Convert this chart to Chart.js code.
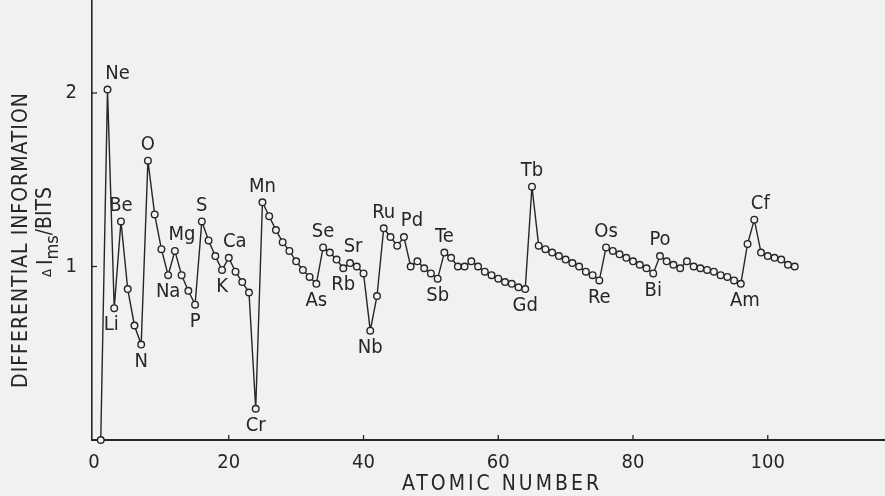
<!DOCTYPE html>
<html>
<head>
<meta charset="utf-8">
<script src="https://cdn.jsdelivr.net/npm/chart.js@4.4.1/dist/chart.umd.min.js"></script>
<style>
  html, body { margin: 0; padding: 0; background: #f1f1ef; }
  #chart { display: block; }
</style>
</head>
<body>
<canvas id="chart" width="885" height="496"></canvas>
<script>
// differential information per element, Z = 1 .. 104
var infoValues = [
    0.00, 2.02, 0.76, 1.26, 0.87, 0.66, 0.55, 1.61, 1.30, 1.10,
    0.95, 1.09, 0.95, 0.86, 0.78, 1.26, 1.15, 1.06, 0.98, 1.05,
    0.97, 0.91, 0.85, 0.18, 1.37, 1.29, 1.21, 1.14, 1.09, 1.03,
    0.98, 0.94, 0.90, 1.11, 1.08, 1.04, 0.99, 1.02, 1.00, 0.96,
    0.63, 0.83, 1.22, 1.17, 1.12, 1.17, 1.00, 1.03, 0.99, 0.96,
    0.93, 1.08, 1.05, 1.00, 1.00, 1.03, 1.00, 0.97, 0.95, 0.93,
    0.91, 0.90, 0.88, 0.87, 1.46, 1.12, 1.10, 1.08, 1.06, 1.04,
    1.02, 1.00, 0.97, 0.95, 0.92, 1.11, 1.09, 1.07, 1.05, 1.03,
    1.01, 0.99, 0.96, 1.06, 1.03, 1.01, 0.99, 1.03, 1.00, 0.99,
    0.98, 0.97, 0.95, 0.94, 0.92, 0.90, 1.13, 1.27, 1.08, 1.06,
    1.05, 1.04, 1.01, 1.00
];

// element names written next to points, by atomic number
var labelZ = [2, 3, 4, 7, 8, 11, 12, 15, 16, 19, 20, 24, 25, 33, 34, 37, 38, 41, 43, 46,
    51, 52, 64, 65, 75, 76, 83, 84, 96, 98];
var labelNames = ["Ne", "Li", "Be", "N", "O", "Na", "Mg", "P", "S", "K", "Ca", "Cr", "Mn", "As", "Se", "Rb", "Sr", "Nb", "Ru", "Pd",
    "Sb", "Te", "Gd", "Tb", "Re", "Os", "Bi", "Po", "Am", "Cf"];

var xTicks = [0, 20, 40, 60, 80, 100];
var yTicks = [1, 2];

var ink = "#262626";
var paper = "#f1f1ef";
var font = "'DejaVu Sans Condensed', 'DejaVu Sans', sans-serif";

// small sideways nudges for a few labels
var labelShift = { Ne: 10, Li: -3, Mg: 7, Ca: 6, Pd: 8, Cf: 6, Am: 4, Sr: 3 };

var points = infoValues.map(function(v, i) {
    return { x: i + 1, y: v };
});

function noPad(s) {
    s.paddingTop = 0;
    s.paddingBottom = 0;
    s.paddingLeft = 0;
    s.paddingRight = 0;
}

var figureText = {
    id: "figureText",
    afterDraw: function(chart) {
        var ctx = chart.ctx;
        var xs = chart.scales.x, ys = chart.scales.y;
        var meta = chart.getDatasetMeta(0);

        // inward tick marks
        ctx.save();
        ctx.strokeStyle = ink;
        ctx.lineWidth = 1.3;
        xTicks.forEach(function(t) {
            if (t === 0) return;
            var px = xs.getPixelForValue(t);
            ctx.beginPath();
            ctx.moveTo(px, ys.bottom);
            ctx.lineTo(px, ys.bottom - 5);
            ctx.stroke();
        });
        yTicks.forEach(function(t) {
            var py = ys.getPixelForValue(t);
            ctx.beginPath();
            ctx.moveTo(xs.left, py);
            ctx.lineTo(xs.left + 5, py);
            ctx.stroke();
        });
        ctx.restore();

        // element labels
        ctx.save();
        ctx.fillStyle = ink;
        ctx.font = "20px " + font;
        ctx.textAlign = "center";
        ctx.textBaseline = "middle";
        labelZ.forEach(function(z, k) {
            var el = meta.data[z - 1];
            var up = infoValues[z - 1] > infoValues[z - 2];
            var name = labelNames[k];
            var dx = labelShift[name] || 0;
            ctx.fillText(name, el.x + dx, up ? el.y - 16 : el.y + 17);
        });
        ctx.restore();

        // x title
        ctx.save();
        ctx.fillStyle = ink;
        ctx.font = "21px " + font;
        ctx.letterSpacing = "3px";
        ctx.textAlign = "center";
        ctx.textBaseline = "middle";
        ctx.fillText("ATOMIC NUMBER", 502, 485);
        ctx.restore();

        // y title, two rotated lines
        ctx.save();
        ctx.fillStyle = ink;
        ctx.translate(22, 240);
        ctx.rotate(-Math.PI / 2);
        ctx.font = "21px " + font;
        ctx.letterSpacing = "1px";
        ctx.textAlign = "center";
        ctx.textBaseline = "middle";
        ctx.fillText("DIFFERENTIAL INFORMATION", 0, 0);
        ctx.restore();

        ctx.save();
        ctx.fillStyle = ink;
        ctx.translate(47, 232);
        ctx.rotate(-Math.PI / 2);
        ctx.textBaseline = "middle";
        ctx.textAlign = "left";
        var parts = [
            { t: "\u0394", f: "13px " + font, dy: 1 },
            { t: "I", f: "21px " + font, dy: 0 },
            { t: "ms", f: "18px " + font, dy: 6 },
            { t: "/BITS", f: "21px " + font, dy: -1 }
        ];
        var total = 0;
        parts.forEach(function(p) {
            ctx.font = p.f;
            p.w = ctx.measureText(p.t).width + (p.t === "\u0394" ? 4 : 0);
            total += p.w;
        });
        var cx = -total / 2;
        parts.forEach(function(p) {
            ctx.font = p.f;
            ctx.fillText(p.t, cx, p.dy);
            cx += p.w;
        });
        ctx.restore();
    }
};

new Chart(document.getElementById("chart"), {
    type: "line",
    data: {
        datasets: [{
            data: points,
            borderColor: ink,
            borderWidth: 1.4,
            pointRadius: 3.3,
            pointBorderWidth: 1.4,
            pointBorderColor: ink,
            pointBackgroundColor: paper,
            tension: 0,
            clip: false
        }]
    },
    options: {
        responsive: false,
        animation: false,
        layout: { padding: 0, autoPadding: false },
        plugins: {
            legend: { display: false },
            tooltip: { enabled: false }
        },
        scales: {
            x: {
                type: "linear",
                min: -0.3,
                max: 117.4,
                afterBuildTicks: function(s) {
                    s.ticks = xTicks.map(function(v) { return { value: v }; });
                },
                afterFit: function(s) { s.height = 56; noPad(s); },
                grid: { display: false },
                border: { display: true, color: ink, width: 2 },
                ticks: {
                    autoSkip: false,
                    maxRotation: 0,
                    padding: 3,
                    color: ink,
                    font: { family: font, size: 20 }
                }
            },
            y: {
                min: 0,
                max: 2.536,
                afterBuildTicks: function(s) {
                    s.ticks = yTicks.map(function(v) { return { value: v }; });
                },
                afterFit: function(s) { s.width = 92; noPad(s); },
                grid: { display: false },
                border: { display: true, color: ink, width: 1.6 },
                ticks: {
                    padding: 7,
                    color: ink,
                    font: { family: font, size: 20 }
                }
            }
        }
    },
    plugins: [figureText]
});
</script>
</body>
</html>
